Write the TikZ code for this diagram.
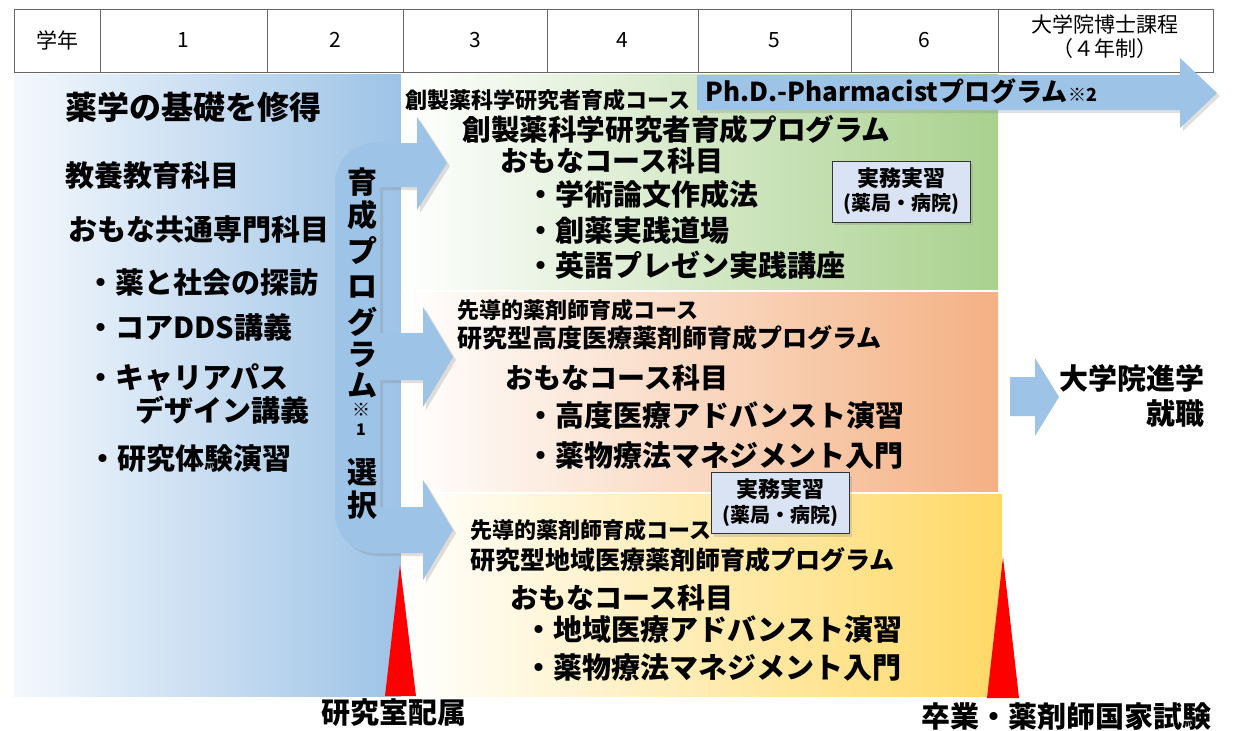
\documentclass[tikz,border=0pt]{standalone}
\usepackage{fontspec}
\setmainfont{Noto Sans CJK JP}
\usetikzlibrary{shadows}
\definecolor{pblue}{HTML}{9DC3E6}
\definecolor{lblue}{HTML}{F4F8FD}
\definecolor{pgreen}{HTML}{A9D18E}
\definecolor{porange}{HTML}{F4B183}
\definecolor{pyellow}{HTML}{FFD966}
\definecolor{boxfill}{HTML}{DAE3F3}
\begin{document}
\begin{tikzpicture}[x=0.5pt,y=-0.5pt,
  txt/.style={anchor=west,inner sep=0pt,font=\bfseries\fontsize{14.5}{16}\selectfont},
  small/.style={txt,font=\bfseries\fontsize{11}{13}\selectfont},
  mid/.style={txt,font=\bfseries\fontsize{12.5}{14}\selectfont},
  head/.style={inner sep=0pt,font=\fontsize{10.5}{13}\selectfont},
  soft/.style={drop shadow={opacity=0.25,shadow xshift=1.5pt,shadow yshift=-1.5pt}},
  jitsumu/.style={draw=black!80,fill=boxfill,soft,minimum width=69pt,minimum height=30.5pt,inner sep=0pt}]
  \useasboundingbox (0,0) rectangle (1233,730);
  \fill[white] (0,0) rectangle (1233,730);
  \draw[black!60,fill=white] (14,9) rectangle (1213,72);
  \foreach \x in {100,267,403,547,698,851,998} \draw[black!60] (\x,9) -- (\x,72);
  \foreach \x/\t [count=\i] in {57/学年,183.5/1,335/2,475/3,622.5/4,774.5/5,924.5/6}
    \node[head] (yr\i) at (\x,40) {\t};
  \node[head] (dr1) at (1105,24) {大学院博士課程};
  \node[head] (dr2) at (1105,49) {（４年制）};
  \shade[left color=lblue,right color=pblue] (14,74) rectangle (401,696);
  \shade[left color=white,right color=pgreen] (401,74) rectangle (998,289);
  \shade[left color=white,right color=porange] (401,292) rectangle (998,491);
  \shade[left color=white,right color=pyellow] (401,494) rectangle (1002,696);
  \fill[red] (385,696) -- (400,565) -- (416,696) -- cycle;
  \fill[red] (987,698) -- (1003,557) -- (1019,698) -- cycle;
  \fill[pblue,soft] (375,143) -- (417,143) -- (417,117) -- (447,163) -- (417,210) -- (417,187)
    -- (380,187) -- (380,333) -- (423,333) -- (423,307) -- (453,357) -- (423,407) -- (423,380)
    -- (380,380) -- (380,507) -- (423,507) -- (423,480) -- (453,530) -- (423,580) -- (423,553)
    -- (375,553) .. controls (353,553) and (335,535) .. (335,513) -- (335,183)
    .. controls (335,161) and (353,143) .. (375,143) -- cycle;
  \fill[pblue,soft] (697,75) -- (1180,75) -- (1180,58) -- (1217,93) -- (1180,128) -- (1180,110) -- (697,110) -- cycle;
  \fill[pblue] (1010,377) -- (1035,377) -- (1035,358) -- (1059,397) -- (1035,436) -- (1035,416) -- (1010,416) -- cycle;
  \node[txt,font=\bfseries\fontsize{13}{15}\selectfont] (phd) at (705,91) {Ph.D.-Pharmacistプログラム};
  \node[anchor=west,inner sep=0pt,font=\bfseries\fontsize{9}{11}\selectfont] (phdnote) at ([yshift=-2pt]phd.east) {※2};
  \node[txt,font=\bfseries\fontsize{16}{18}\selectfont] (base) at (65,107) {薬学の基礎を修得};
  \node[txt] (kyoyo) at (65,175) {教養教育科目};
  \node[txt] (kyotsu) at (68,229) {おもな共通専門科目};
  \node[txt] (l1) at (86,282) {・薬と社会の探訪};
  \node[txt] (l2) at (86,327) {・コアDDS講義};
  \node[txt] (l3) at (86,378) {・キャリアパス};
  \node[txt] (l3b) at (135,410) {デザイン講義};
  \node[txt] (l4) at (88,459) {・研究体験演習};
  \foreach \c/\y [count=\i] in {育/182,成/215,プ/251,ロ/287,グ/322,ラ/355,ム/385,選/472,択/505}
    \node[inner sep=0pt,font=\bfseries\fontsize{15}{17}\selectfont] (v\i) at (362,\y) {\c};
  \node[inner sep=0pt,font=\fontsize{9}{11}\selectfont] (kome) at (361,410) {※};
  \node[inner sep=0pt,font=\bfseries\fontsize{8}{10}\selectfont] (one) at (361,430) {1};
  \node[small] (g0) at (405,100) {創製薬科学研究者育成コース};
  \node[txt,font=\bfseries\fontsize{14.3}{16}\selectfont] (g1) at (462,130) {創製薬科学研究者育成プログラム};
  \node[txt,font=\bfseries\fontsize{14}{16}\selectfont] (g2) at (500,161) {おもなコース科目};
  \node[txt] (g3) at (526,194) {・学術論文作成法};
  \node[txt] (g4) at (526,230) {・創薬実践道場};
  \node[txt] (g5) at (526,265) {・英語プレゼン実践講座};
  \node[small] (o0) at (457,310) {先導的薬剤師育成コース};
  \node[mid] (o1) at (457,338) {研究型高度医療薬剤師育成プログラム};
  \node[txt,font=\bfseries\fontsize{14}{16}\selectfont] (o2) at (505,378) {おもなコース科目};
  \node[txt] (o3) at (526,416) {・高度医療アドバンスト演習};
  \node[txt] (o4) at (526,455) {・薬物療法マネジメント入門};
  \node[small] (y0) at (470,530) {先導的薬剤師育成コース};
  \node[mid] (y1) at (470,560) {研究型地域医療薬剤師育成プログラム};
  \node[txt,font=\bfseries\fontsize{14}{16}\selectfont] (y2) at (510,598) {おもなコース科目};
  \node[txt] (y3) at (524,630) {・地域医療アドバンスト演習};
  \node[txt] (y4) at (524,667) {・薬物療法マネジメント入門};
  \node[jitsumu] (box1) at (901,191.5) {};
  \node[inner sep=0pt,font=\bfseries\fontsize{11}{13}\selectfont] (box1a) at (901,178) {実務実習};
  \node[inner sep=0pt,font=\bfseries\fontsize{10}{12}\selectfont] (box1b) at (901,204) {(薬局・病院)};
  \node[jitsumu] (box2) at (780,503) {};
  \node[inner sep=0pt,font=\bfseries\fontsize{11}{13}\selectfont] (box2a) at (780,489.5) {実務実習};
  \node[inner sep=0pt,font=\bfseries\fontsize{10}{12}\selectfont] (box2b) at (780,515.5) {(薬局・病院)};
  \node[txt,anchor=east] (shingaku) at (1205,378) {大学院進学};
  \node[txt,anchor=east] (shushoku) at (1205,413) {就職};
  \node[txt,anchor=center] (haizoku) at (394,713) {研究室配属};
  \node[txt,anchor=center] (sotsugyo) at (1066,716) {卒業・薬剤師国家試験};
\end{tikzpicture}
\end{document}
